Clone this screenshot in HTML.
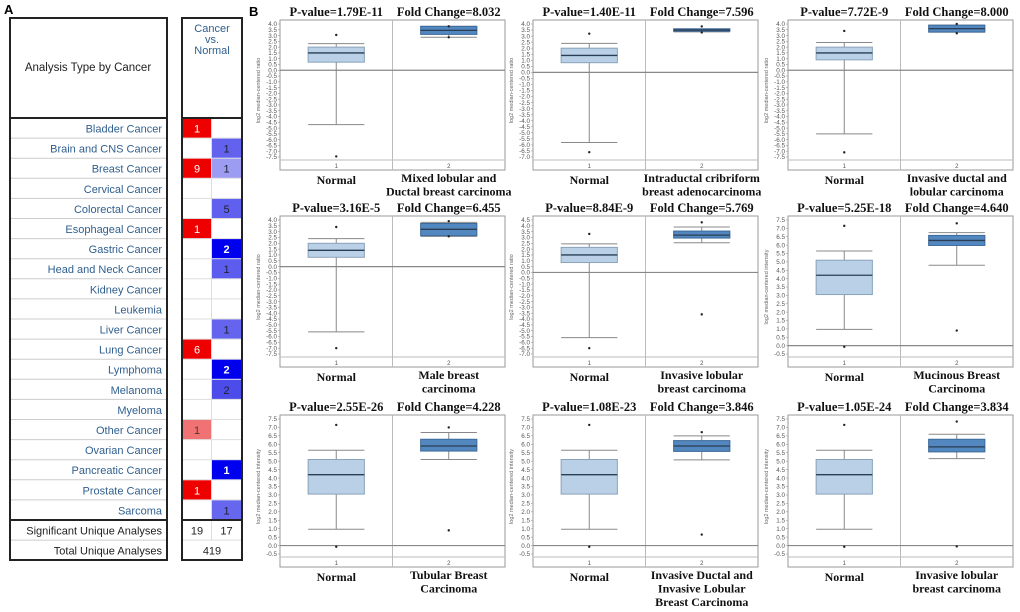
<!DOCTYPE html>
<html><head><meta charset="utf-8"><style>
body{margin:0;background:#fff;width:1020px;height:612px;overflow:hidden;font-family:"Liberation Sans",sans-serif;}
svg{position:absolute;left:0;top:0}
</style></head><body>
<svg id="fig" width="1020" height="612" viewBox="0 0 1020 612"></svg>
<script>
// ---- Panel A data ----
const cancers=["Bladder Cancer","Brain and CNS Cancer","Breast Cancer","Cervical Cancer","Colorectal Cancer","Esophageal Cancer","Gastric Cancer","Head and Neck Cancer","Kidney Cancer","Leukemia","Liver Cancer","Lung Cancer","Lymphoma","Melanoma","Myeloma","Other Cancer","Ovarian Cancer","Pancreatic Cancer","Prostate Cancer","Sarcoma"];
const upCounts=[1,0,9,0,0,1,0,0,0,0,0,6,0,0,0,1,0,0,1,0];
const downCounts=[0,1,1,0,5,0,2,1,0,0,1,0,2,2,0,0,0,1,0,1];
const upColors=["#ee0000","","#ee0000","","","#ee0000","","","","","","#ee0000","","","","#f07272","","","#ee0000",""];
const downColors=["","#6262ee","#9c9cf2","","#6060ee","","#0000ee","#5c5cee","","","#6464ee","","#0000ee","#4c4cea","","","","#0000f0","","#6666ee"];
// ---- Panel B data (9 box plots) ----
const titlesP=["P-value=1.79E-11","P-value=1.40E-11","P-value=7.72E-9","P-value=3.16E-5","P-value=8.84E-9","P-value=5.25E-18","P-value=2.55E-26","P-value=1.08E-23","P-value=1.05E-24"];
const titlesFC=["Fold Change=8.032","Fold Change=7.596","Fold Change=8.000","Fold Change=6.455","Fold Change=5.769","Fold Change=4.640","Fold Change=4.228","Fold Change=3.846","Fold Change=3.834"];
const tumorLabels=[["Mixed lobular and","Ductal breast carcinoma"],["Intraductal cribriform","breast adenocarcinoma"],["Invasive ductal and","lobular carcinoma"],["Male breast","carcinoma"],["Invasive lobular","breast carcinoma"],["Mucinous Breast","Carcinoma"],["Tubular Breast","Carcinoma"],["Invasive Ductal and","Invasive Lobular","Breast Carcinoma"],["Invasive lobular","breast carcinoma"]];
const yMaxs=[4.0,4.0,4.0,4.0,4.5,7.5,7.5,7.5,7.5];
const yMins=[-7.5,-7.0,-7.5,-7.5,-7.0,-0.5,-0.5,-0.5,-0.5];
const yTitles=["log2 median-centered ratio","log2 median-centered ratio","log2 median-centered ratio","log2 median-centered ratio","log2 median-centered ratio","log2 median-centered intensity","log2 median-centered intensity","log2 median-centered intensity","log2 median-centered intensity"];
// [whiskerLow, q1, median, q3, whiskerHigh, outlierLow, outlierHigh]
const normalStats=[[-4.7,0.7,1.5,2.0,2.3,-7.45,3.05],[-5.8,0.8,1.4,2.0,2.4,-6.6,3.2],[-5.5,0.9,1.5,2.0,2.4,-7.1,3.4],[-5.6,0.8,1.4,2.0,2.4,-7.0,3.4],[-5.6,0.85,1.5,2.15,2.45,-6.5,3.3],[0.97,3.05,4.2,5.1,5.65,-0.07,7.15],[0.97,3.05,4.2,5.1,5.65,-0.07,7.15],[0.97,3.05,4.2,5.1,5.65,-0.07,7.15],[0.97,3.05,4.2,5.1,5.65,-0.07,7.15]];
const tumorStats=[[2.85,3.1,3.45,3.8,3.8,2.85,3.8],[3.35,3.4,3.5,3.6,3.6,3.3,3.8],[3.3,3.3,3.6,3.9,3.9,3.2,4.0],[2.6,2.65,3.2,3.7,3.8,2.6,3.9],[2.55,2.95,3.2,3.55,3.9,-3.6,4.3],[4.8,5.98,6.28,6.58,6.75,0.9,7.3],[5.1,5.6,5.9,6.3,6.7,0.9,7.0],[5.08,5.58,5.9,6.22,6.5,0.65,6.72],[5.15,5.55,5.85,6.3,6.6,-0.05,7.35]];

const NS="http://www.w3.org/2000/svg";
const svg=document.getElementById('fig');
function mk(tag,attrs,parent,txt){const e=document.createElementNS(NS,tag);for(const k in attrs)e.setAttribute(k,attrs[k]);if(txt!==undefined)e.textContent=txt;(parent||svg).appendChild(e);return e;}

// ---- Panel A ----
let t=mk('text',{x:4,y:14,'font-size':13,'font-weight':'bold',fill:'#000'},svg,'A');


t=mk('text',{x:249,y:16,'font-size':13,'font-weight':'bold',fill:'#000'},svg,'B');


const rowTop=118,rowH=20.1;
const tbl=mk('g',{});


t=mk('text',{x:88,y:71,'font-size':11.5,'text-anchor':'middle',fill:'#222'},tbl,'Analysis Type by Cancer');


['Cancer','vs.','Normal'].forEach((s,i)=>{const h=mk('text',{x:212,y:32+i*11,'font-size':11,'text-anchor':'middle',fill:'#2f5f8f'},tbl,s);

});
cancers.forEach((c,i)=>{
  const y=rowTop+i*rowH;
  mk('line',{x1:11,x2:166,y1:y+rowH,y2:y+rowH,stroke:'#ccc','stroke-width':1},tbl);
  mk('line',{x1:183,x2:241,y1:y+rowH,y2:y+rowH,stroke:'#ddd','stroke-width':1},tbl);
  const lb=mk('text',{x:162,y:y+14.5,'font-size':11,'text-anchor':'end',fill:'#2f5f8f'},tbl,c);
  
  
  if(upCounts[i]>0){
    const r=mk('rect',{x:183,y:y+0.5,width:28,height:rowH-1,fill:upColors[i]},tbl);
    
    
    mk('text',{x:197,y:y+14.5,'font-size':11,'text-anchor':'middle',fill:upColors[i]==='#ee0000'?'#fff':'#533'},tbl,String(upCounts[i]));
  }
  if(downCounts[i]>0){
    const r=mk('rect',{x:212,y:y+0.5,width:29,height:rowH-1,fill:downColors[i]},tbl);
    
    
    const dark=downColors[i]==='#0000ee'||downColors[i]==='#0000f0';
    mk('text',{x:226.5,y:y+14.5,'font-size':11,'text-anchor':'middle','font-weight':dark?'bold':'normal',fill:dark?'#fff':'#223'},tbl,String(downCounts[i]));
  }
});
mk('line',{x1:211.5,x2:211.5,y1:118,y2:540,stroke:'#ddd'},tbl);
const yS=rowTop+20*rowH;
mk('line',{x1:11,x2:166,y1:yS+rowH,y2:yS+rowH,stroke:'#ccc'},tbl);
mk('line',{x1:183,x2:241,y1:yS+rowH,y2:yS+rowH,stroke:'#ddd'},tbl);
t=mk('text',{x:162,y:yS+14.5,'font-size':11,'text-anchor':'end',fill:'#222'},tbl,'Significant Unique Analyses');


mk('text',{x:197,y:yS+14.5,'font-size':11,'text-anchor':'middle',fill:'#222'},tbl,'19');
mk('text',{x:226.5,y:yS+14.5,'font-size':11,'text-anchor':'middle',fill:'#222'},tbl,'17');
t=mk('text',{x:162,y:yS+rowH+14.5,'font-size':11,'text-anchor':'end',fill:'#222'},tbl,'Total Unique Analyses');


mk('text',{x:212,y:yS+rowH+14.5,'font-size':11,'text-anchor':'middle',fill:'#222'},tbl,'419');
mk('line',{x1:211.5,x2:211.5,y1:yS,y2:yS+rowH,stroke:'#ddd'},tbl);
mk('rect',{x:10,y:18,width:157,height:542,fill:'none',stroke:'#222','stroke-width':2},tbl);
mk('rect',{x:182,y:18,width:60,height:542,fill:'none',stroke:'#222','stroke-width':2},tbl);
[[10,167],[182,242]].forEach(([a,b])=>{mk('line',{x1:a,x2:b,y1:118,y2:118,stroke:'#222','stroke-width':2},tbl);mk('line',{x1:a,x2:b,y1:520,y2:520,stroke:'#222','stroke-width':2},tbl);});

// ---- Panel B ----
const frameT=[20,216,415],frameB=[170,367,567],colL=[280,533,788],frameW=225;
for(let p=0;p<9;p++){
  const r=Math.floor(p/3),c=p%3;
  const L=colL[c],T=frameT[r],B=frameB[r],R=L+frameW,mid=L+frameW/2;
  const top=T+4,bot=B-13;
  const yMax=yMaxs[p],yMin=yMins[p];
  const yScale=v=>top+(yMax-v)/(yMax-yMin)*(bot-top);
  const xScale=i=>L+frameW*(0.25+0.5*i);
  const g=mk('g',{});
  
  
  const tp=mk('text',{x:L+frameW*0.25,y:T-4,'font-size':12.5,'font-weight':'bold','text-anchor':'middle','font-family':'Liberation Serif,serif',fill:'#111'},g,titlesP[p]);
  
  
  const tf=mk('text',{x:L+frameW*0.75,y:T-4,'font-size':12.5,'font-weight':'bold','text-anchor':'middle','font-family':'Liberation Serif,serif',fill:'#111'},g,titlesFC[p]);
  
  
  mk('rect',{x:L,y:T,width:frameW,height:B-T,fill:'#fff',stroke:'#999','stroke-width':1},g);
  mk('line',{x1:mid,x2:mid,y1:T,y2:B,stroke:'#bbb'},g);
  mk('line',{x1:L,x2:R,y1:B-10,y2:B-10,stroke:'#bbb'},g);
  mk('text',{x:xScale(0),y:B-2,'font-size':6,'text-anchor':'middle',fill:'#555'},g,'1');
  mk('text',{x:xScale(1),y:B-2,'font-size':6,'text-anchor':'middle',fill:'#555'},g,'2');
  // ticks
  const n=Math.round((yMax-yMin)/0.5);
  for(let k=0;k<=n;k++){
    const v=yMax-k*0.5,yy=yScale(v);
    mk('line',{x1:L-2,x2:L,y1:yy,y2:yy,stroke:'#999','stroke-width':0.6},g);
    mk('text',{x:L-3,y:yy+2.2,'font-size':6.3,'text-anchor':'end',fill:'#555'},g,v.toFixed(1));
  }
  const yt=mk('text',{x:0,y:0,'font-size':5.5,'text-anchor':'middle',fill:'#666',transform:`translate(${L-20},${(top+bot)/2}) rotate(-90)`},g,yTitles[p]);
  
  
  // zero line
  mk('line',{x1:L,x2:R,y1:yScale(0),y2:yScale(0),stroke:'#888','stroke-width':1.2},g);
  // boxes
  [normalStats[p],tumorStats[p]].forEach((s,i)=>{
    const cx=xScale(i),hw=frameW*0.125;
    const fill=i===0?'#b9d0e6':'#5387bf',edge=i===0?'#8aa2ba':'#3d6a9a';
    mk('line',{x1:cx,x2:cx,y1:yScale(s[0]),y2:yScale(s[4]),stroke:'#888'},g);
    mk('line',{x1:cx-hw,x2:cx+hw,y1:yScale(s[0]),y2:yScale(s[0]),stroke:'#888'},g);
    mk('line',{x1:cx-hw,x2:cx+hw,y1:yScale(s[4]),y2:yScale(s[4]),stroke:'#888'},g);
    const bx=mk('rect',{x:cx-hw,y:yScale(s[3]),width:2*hw,height:Math.max(1,yScale(s[1])-yScale(s[3])),fill:fill,stroke:edge},g);
    
    
    mk('line',{x1:cx-hw,x2:cx+hw,y1:yScale(s[2]),y2:yScale(s[2]),stroke:'#2b3d52','stroke-width':1.3},g);
    [s[5],s[6]].forEach(o=>{const d=mk('circle',{cx:cx,cy:yScale(o),r:1.2,fill:'#222'},g);
      
      });
  });
  // category labels
  const nl=mk('text',{x:xScale(0),y:B+14,'font-size':12,'font-weight':'bold','text-anchor':'middle','font-family':'Liberation Serif,serif',fill:'#111'},g,'Normal');
  
  
  tumorLabels[p].forEach((s,k)=>{const tl=mk('text',{x:xScale(1),y:B+12+k*13.5,'font-size':12,'font-weight':'bold','text-anchor':'middle','font-family':'Liberation Serif,serif',fill:'#111'},g,s);
    
    });
}
</script>
</body></html>
